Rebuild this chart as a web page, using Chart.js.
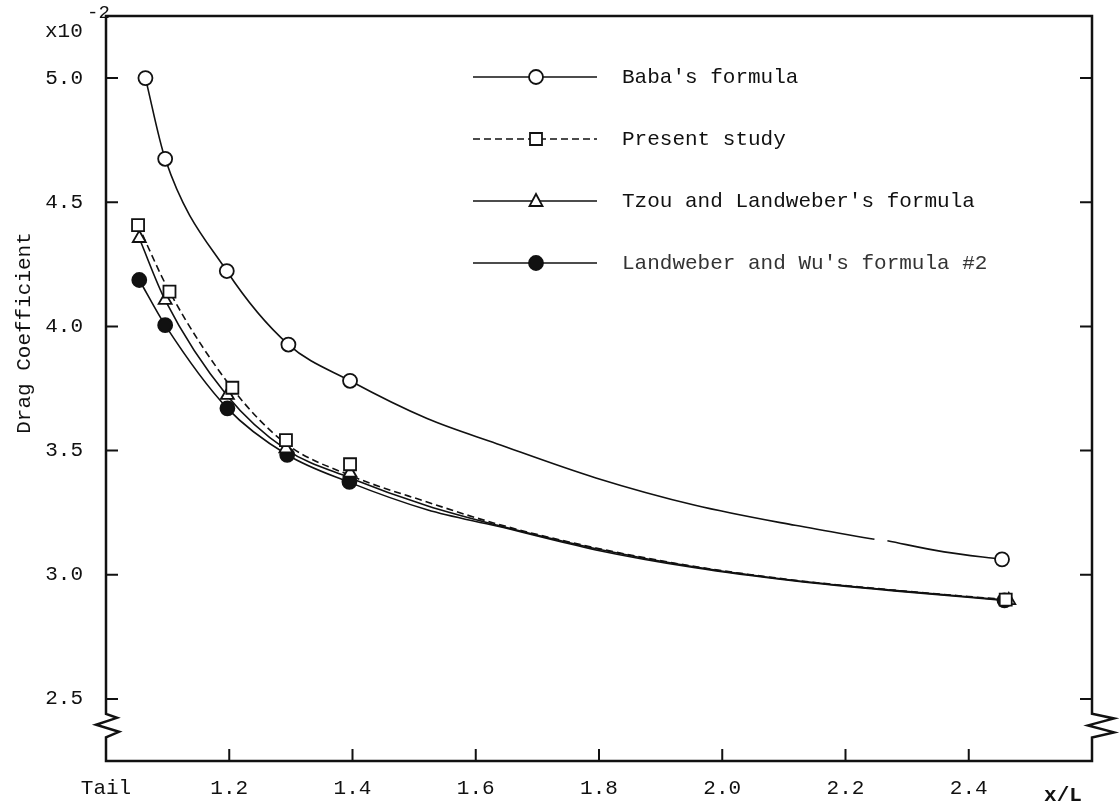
<!DOCTYPE html>
<html>
<head>
<meta charset="utf-8">
<script src="https://cdn.jsdelivr.net/npm/chart.js@4.4.1/dist/chart.umd.min.js"></script>
<style>
    html, body { margin: 0; padding: 0; background: #fff; }
    #wrap { width: 1120px; height: 807px; position: relative; }
</style>
</head>
<body>
<div id="wrap"><canvas id="myChart"></canvas></div>
<script>
// axis ticks
var xTicks = [1.0, 1.2, 1.4, 1.6, 1.8, 2.0, 2.2, 2.4];
var yTicks = [2.5, 3.0, 3.5, 4.0, 4.5, 5.0];

// series names (legend order)
var seriesNames = ["Baba's formula", "Present study", "Tzou and Landweber's formula", "Landweber and Wu's formula #2"];

// plotted points (markers), Cd x 10^2
var babaX = [1.064, 1.096, 1.196, 1.296, 1.396, 2.454];
var babaY = [5.000, 4.675, 4.223, 3.927, 3.781, 3.062];
var presentX = [1.052, 1.103, 1.205, 1.292, 1.396, 2.460];
var presentY = [4.408, 4.140, 3.753, 3.542, 3.445, 2.900];
var tzouX = [1.054, 1.096, 1.197, 1.292, 1.396, 2.465];
var tzouY = [4.355, 4.106, 3.723, 3.508, 3.410, 2.897];
var wuX = [1.054, 1.096, 1.197, 1.294, 1.395, 2.458];
var wuY = [4.187, 4.005, 3.670, 3.483, 3.374, 2.897];

// faired curves (null = pen lift in the original)
var babaCurveX = [1.064, 1.096, 1.196, 1.296, 1.396, 1.521, 1.634, 1.795, 1.956, 2.118, 2.247, 2.257, 2.268, 2.360, 2.454];
var babaCurveY = [5.000, 4.675, 4.223, 3.927, 3.781, 3.629, 3.528, 3.390, 3.280, 3.199, 3.143, null, 3.137, 3.092, 3.062];
var presentCurveX = [1.052, 1.103, 1.205, 1.292, 1.396, 1.521, 1.634, 1.795, 1.956, 2.118, 2.279, 2.460];
var presentCurveY = [4.408, 4.140, 3.750, 3.528, 3.400, 3.293, 3.205, 3.108, 3.033, 2.978, 2.938, 2.900];
var tzouCurveX = [1.054, 1.096, 1.197, 1.292, 1.396, 1.521, 1.634, 1.795, 1.956, 2.118, 2.279, 2.465];
var tzouCurveY = [4.355, 4.106, 3.720, 3.505, 3.390, 3.278, 3.200, 3.105, 3.031, 2.977, 2.937, 2.897];
var wuCurveX = [1.054, 1.096, 1.197, 1.294, 1.395, 1.521, 1.634, 1.795, 1.956, 2.118, 2.279, 2.458];
var wuCurveY = [4.187, 4.005, 3.670, 3.483, 3.372, 3.262, 3.196, 3.100, 3.028, 2.975, 2.935, 2.897];

var ink = '#111';
var typeFont = "'Liberation Mono', 'DejaVu Sans Mono', monospace";

function pts(xs, ys) {
    return xs.map(function (x, i) { return { x: x, y: ys[i] }; });
}

function markerSet(label, xs, ys, style, radius, fill) {
    return {
        label: label,
        data: pts(xs, ys),
        showLine: false,
        pointStyle: style,
        pointRadius: radius,
        pointHoverRadius: radius,
        pointBorderWidth: 1.8,
        pointBorderColor: ink,
        pointBackgroundColor: fill,
        borderColor: ink
    };
}

function curveSet(xs, ys, dash) {
    return {
        label: '',
        data: pts(xs, ys),
        borderColor: ink,
        borderWidth: 1.6,
        borderDash: dash,
        pointRadius: 0,
        cubicInterpolationMode: 'monotone',
        spanGaps: false
    };
}

// legend rows, same look as the marker sets
var legendRows = [
    { style: 'circle', fill: '#fff', dash: [] },
    { style: 'rect', fill: '#fff', dash: [7, 4] },
    { style: 'triangle', fill: '#fff', dash: [] },
    { style: 'circle', fill: ink, dash: [] }
];

function drawMarker(c, style, x, y, fill) {
    c.save();
    c.fillStyle = fill;
    c.strokeStyle = ink;
    c.lineWidth = 1.8;
    c.setLineDash([]);
    c.beginPath();
    if (style === 'circle') {
        c.arc(x, y, 7, 0, Math.PI * 2);
    } else if (style === 'rect') {
        c.rect(x - 6, y - 6, 12, 12);
    } else {
        c.moveTo(x, y - 7);
        c.lineTo(x + 6.5, y + 5);
        c.lineTo(x - 6.5, y + 5);
        c.closePath();
    }
    c.fill();
    c.stroke();
    c.restore();
}

var paperFrame = {
    id: 'paperFrame',
    beforeDatasetsDraw: function (chart) {
        var c = chart.ctx, a = chart.chartArea, ys = chart.scales.y, xs = chart.scales.x;
        var b1 = ys.getPixelForValue(2.44);
        var b2 = ys.getPixelForValue(2.345);
        c.save();
        c.strokeStyle = ink;
        c.lineWidth = 2.5;
        c.lineJoin = 'miter';
        c.beginPath();
        c.moveTo(a.left, a.top);
        c.lineTo(a.left, b1);
        c.lineTo(a.left + 11, b1 + 4);
        c.lineTo(a.left - 10, b1 + 11);
        c.lineTo(a.left + 13, b1 + 18);
        c.lineTo(a.left, b2);
        c.lineTo(a.left, a.bottom);
        c.lineTo(a.right, a.bottom);
        c.lineTo(a.right, b2);
        c.lineTo(a.right + 22, b2 - 5);
        c.lineTo(a.right - 4, b2 - 12);
        c.lineTo(a.right + 22, b2 - 19);
        c.lineTo(a.right, b1);
        c.lineTo(a.right, a.top);
        c.closePath();
        c.stroke();

        // inward tick marks
        c.lineWidth = 2;
        c.beginPath();
        yTicks.forEach(function (v) {
            var py = ys.getPixelForValue(v);
            c.moveTo(a.left, py); c.lineTo(a.left + 12, py);
            c.moveTo(a.right, py); c.lineTo(a.right - 12, py);
        });
        xTicks.forEach(function (v) {
            if (v <= 1.0) return;
            var px = xs.getPixelForValue(v);
            c.moveTo(px, a.bottom); c.lineTo(px, a.bottom - 12);
        });
        c.stroke();
        c.restore();
    },
    afterDraw: function (chart) {
        var c = chart.ctx;
        c.save();
        c.fillStyle = ink;
        c.textBaseline = 'alphabetic';

        // scale factor
        c.font = '21px ' + typeFont;
        c.textAlign = 'left';
        c.fillText('x10', 45, 37);
        c.font = '19px ' + typeFont;
        c.fillText('-2', 87, 18);

        // axis names
        c.font = 'bold 21px ' + typeFont;
        c.textAlign = 'center';
        c.textBaseline = 'middle';
        c.fillText('x/L', 1063, 796);

        c.font = '21px ' + typeFont;
        c.translate(24, 333);
        c.rotate(-Math.PI / 2);
        c.fillText('Drag Coefficient', 0, 0);
        c.setTransform(1, 0, 0, 1, 0, 0);

        // legend
        legendRows.forEach(function (row, i) {
            var y = 77 + i * 62;
            c.save();
            c.strokeStyle = ink;
            c.lineWidth = 1.5;
            c.setLineDash(row.dash);
            c.beginPath();
            c.moveTo(473, y);
            c.lineTo(597, y);
            c.stroke();
            c.restore();
            drawMarker(c, row.style, 536, y, row.fill);
            c.fillStyle = i === 3 ? '#333' : ink;
            c.font = '21px ' + typeFont;
            c.textAlign = 'left';
            c.textBaseline = 'middle';
            c.fillText(seriesNames[i], 622, y);
        });
        c.restore();
    }
};

var ctx = document.getElementById('myChart');
var myChart = new Chart(ctx, {
    type: 'line',
    data: {
        datasets: [
            markerSet(seriesNames[0], babaX, babaY, 'circle', 7, '#fff'),
            markerSet(seriesNames[1], presentX, presentY, 'rect', 8.5, '#fff'),
            markerSet(seriesNames[2], tzouX, tzouY, 'triangle', 7.5, '#fff'),
            markerSet(seriesNames[3], wuX, wuY, 'circle', 7, ink),
            curveSet(babaCurveX, babaCurveY, []),
            curveSet(presentCurveX, presentCurveY, [7, 4]),
            curveSet(tzouCurveX, tzouCurveY, []),
            curveSet(wuCurveX, wuCurveY, [])
        ]
    },
    options: {
        responsive: true,
        maintainAspectRatio: false,
        animation: false,
        layout: { padding: { left: 0, right: 28, top: 16, bottom: 0 } },
        plugins: {
            legend: { display: false },
            tooltip: { enabled: false }
        },
        scales: {
            x: {
                type: 'linear',
                min: 1.0,
                max: 2.6,
                grid: { display: false, drawTicks: false },
                border: { display: false },
                afterBuildTicks: function (scale) {
                    scale.ticks = xTicks.map(function (v) { return { value: v }; });
                },
                afterFit: function (scale) {
                    scale.height = 46;
                    scale.paddingLeft = 0;
                    scale.paddingRight = 0;
                },
                ticks: {
                    autoSkip: false,
                    maxRotation: 0,
                    padding: 15,
                    color: ink,
                    font: { family: typeFont, size: 21 },
                    callback: function (v) { return v <= 1.0 ? 'Tail' : v.toFixed(1); }
                }
            },
            y: {
                type: 'linear',
                min: 2.25,
                max: 5.25,
                grid: { display: false, drawTicks: false },
                border: { display: false },
                afterBuildTicks: function (scale) {
                    scale.ticks = yTicks.map(function (v) { return { value: v }; });
                },
                afterFit: function (scale) {
                    scale.width = 106;
                    scale.paddingTop = 0;
                    scale.paddingBottom = 0;
                },
                ticks: {
                    padding: 23,
                    color: ink,
                    font: { family: typeFont, size: 21 },
                    callback: function (v) { return v.toFixed(1); }
                }
            }
        }
    },
    plugins: [paperFrame]
});
</script>
</body>
</html>
